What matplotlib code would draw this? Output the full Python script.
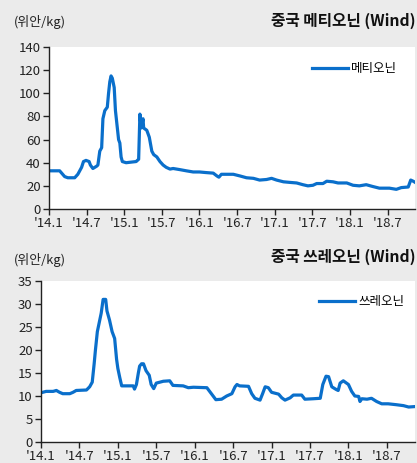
import matplotlib
matplotlib.use("Agg")
import matplotlib.pyplot as plt

plt.rcParams['font.family'] = ['Noto Sans CJK KR', 'DejaVu Sans']

# x: months since Jan 2014
met_x = [0, 1.7, 2.5, 3.0, 4.1, 4.6, 5.2, 5.5, 5.9, 6.4, 6.6, 7.0, 7.6, 7.8, 8.1, 8.4, 8.6, 8.9,
         9.3, 9.5, 9.7, 9.9, 10.1, 10.4, 10.6, 10.9, 11.1, 11.3, 11.5, 11.7, 12.3, 13.1, 13.9,
         14.3, 14.5, 14.7, 15.0, 15.1, 15.6, 16.0, 16.4, 16.7, 17.2, 17.7, 18.2, 18.7, 19.3,
         19.8, 20.9, 21.9, 23.0, 24.0, 25.0, 26.2, 26.8, 27.1, 27.5, 28.3, 29.4, 30.5, 31.5,
         32.6, 33.6, 34.7, 35.5, 36.3, 37.4, 38.4, 39.5, 40.5, 41.3, 42.1, 42.7, 43.7, 44.3,
         45.3, 46.1, 47.5, 48.5, 49.5, 50.6, 51.6, 52.7, 54.3, 55.4, 56.2, 57.3, 57.7, 58.1, 58.4]
met_y = [33, 33, 28, 27, 27, 30, 36, 41, 42, 41, 38, 35, 37, 38, 50, 53, 78, 85,
         88, 100, 110, 115, 113, 105, 85, 70, 60, 57, 45, 41, 40, 40.5, 41,
         43, 82, 70, 78, 70, 68, 62, 50, 47, 45, 41, 38, 36, 34.5,
         35, 34, 33, 32, 32, 31.5, 31, 28.5, 27.5, 30, 30, 30, 28.5, 27,
         26.5, 25, 25.5, 26.5, 25, 23.5, 23, 22.5, 21, 20, 20.5, 22, 22, 24,
         23.5, 22.5, 22.5, 20.5, 20, 21, 19.5, 18, 18, 17, 18.5, 19, 25, 24, 23]

thr_x = [0, 0.8, 1.9, 2.4, 2.9, 3.4, 4.5, 5.0, 5.5, 7.1, 7.6, 8.0, 8.3, 8.5, 8.8, 9.1, 9.4, 9.7,
         10.1, 10.3, 10.7, 11.1, 11.5, 11.8, 12.0, 12.3, 12.6, 14.4, 14.6, 14.9, 15.2, 15.4,
         15.7, 16.0, 16.4, 16.9, 17.2, 17.6, 18.0, 19.1, 20.1, 20.6, 22.2, 23.0, 23.8, 25.9,
         26.6, 27.3, 28.2, 29.0, 29.8, 30.3, 30.6, 31.0, 32.4, 32.9, 33.4, 34.2, 34.6, 35.0,
         35.5, 36.0, 37.1, 37.6, 38.1, 38.9, 39.4, 40.7, 41.2, 42.5, 43.6, 44.0, 44.5, 44.9,
         45.4, 46.1, 46.4, 46.7, 47.2, 48.0, 48.5, 49.0, 49.6, 49.8, 50.1, 50.9, 51.6, 52.4,
         53.2, 54.2, 55.5, 56.6, 57.4, 58.4]
thr_y = [10.7, 11, 11, 11.2, 10.8, 10.5, 10.5, 10.8, 11.2, 11.3, 12, 13, 17, 20, 24, 26, 28, 31,
         31, 28.5, 26.5, 24, 22.5, 18, 16, 14, 12.2, 12.2, 11.5, 12.5, 15, 16.5,
         17, 17, 15.5, 14.5, 12.5, 11.6, 12.8, 13.2, 13.3, 12.3, 12.2, 11.8, 11.9, 11.8,
         10.5, 9.2, 9.3, 10, 10.5, 12, 12.5, 12.2, 12.1, 10.5, 9.5, 9.1, 10.5, 12,
         11.8, 10.8, 10.4, 9.6, 9.1, 9.6, 10.2, 10.2, 9.3, 9.4, 9.5, 12.5, 14.3, 14.2,
         12, 11.4, 11.2, 12.8, 13.3, 12.5, 11, 10, 9.9, 8.8, 9.4, 9.3, 9.5, 8.8,
         8.3, 8.3, 8.1, 7.9, 7.6, 7.7]

tick_pos = [0, 6, 12, 18, 24, 30, 36, 42, 48, 54]
tick_labels = ["'14.1", "'14.7", "'15.1", "'15.7", "'16.1", "'16.7", "'17.1", "'17.7", "'18.1", "'18.7"]

color = '#0A6FCB'
bg = '#EBEBEB'

fig = plt.figure(figsize=(4.17, 4.63), dpi=100, facecolor=bg)

def setup(ax, x, y, ylim, ystep, name, anchor):
    ax.set_facecolor('white')
    ax.plot(x, y, color=color, lw=2.3, label=name, solid_joinstyle='round')
    ax.set_xlim(0, 58.4)
    ax.set_ylim(0, ylim)
    ax.set_yticks(list(range(0, ylim + 1, ystep)))
    ax.set_xticks(tick_pos)
    ax.set_xticklabels(tick_labels)
    for s in ['top', 'right']:
        ax.spines[s].set_visible(False)
    for s in ['left', 'bottom']:
        ax.spines[s].set_color('#222222')
        ax.spines[s].set_linewidth(1.0)
    ax.tick_params(axis='both', direction='out', length=4, width=1, colors='#222222',
                   labelsize=9.5, labelcolor='#222222', pad=2)
    ax.legend(loc='center left', bbox_to_anchor=anchor, bbox_transform=fig.transFigure,
              frameon=False, fontsize=9, handlelength=2.9, handletextpad=0.25,
              borderpad=0, borderaxespad=0)

ax1 = fig.add_axes([0.1175, 0.5486, 0.878, 0.3499])
setup(ax1, met_x, met_y, 140, 20, '메티오닌', (0.748, 0.851))
ax2 = fig.add_axes([0.0983, 0.0454, 0.897, 0.3477])
setup(ax2, thr_x, thr_y, 35, 5, '쓰레오닌', (0.765, 0.348))

fig.text(0.034, 1 - 22 / 463, '(위안/kg)', fontsize=9.3, ha='left', va='center', color='#222222')
fig.text(0.996, 1 - 21 / 463, '중국 메티오닌 (Wind)', fontsize=11.3, fontweight='bold',
         ha='right', va='center', color='#111111')
fig.text(0.034, 1 - 260 / 463, '(위안/kg)', fontsize=9.3, ha='left', va='center', color='#222222')
fig.text(0.996, 1 - 257 / 463, '중국 쓰레오닌 (Wind)', fontsize=11.3, fontweight='bold',
         ha='right', va='center', color='#111111')

fig.savefig('out.png', dpi=100, facecolor=bg)
